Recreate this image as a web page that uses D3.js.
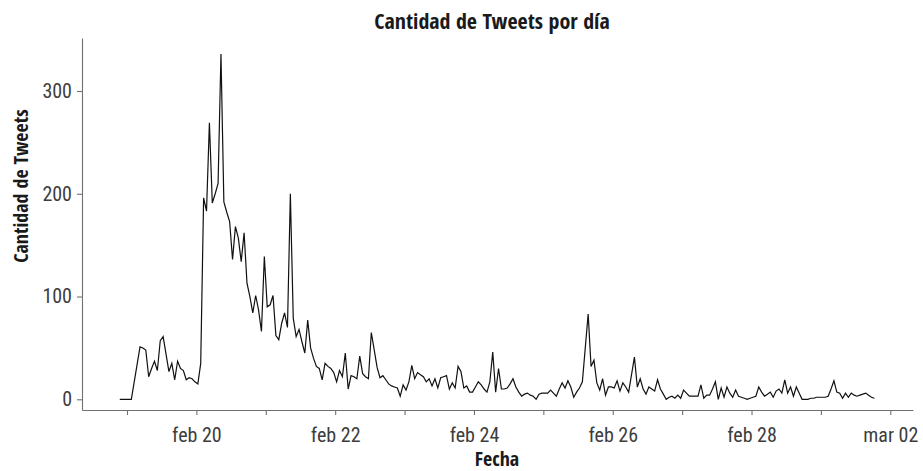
<!DOCTYPE html>
<html lang="es">
<head>
<meta charset="UTF-8">
<title>Cantidad de Tweets por día</title>
<script src="https://d3js.org/d3.v7.min.js"></script>
<style>
    body { margin: 0; background: #ffffff; }
    svg text { font-family: "Roboto Condensed", "DejaVu Sans Condensed", sans-serif; }
    .axis text { font-size: 20px; fill: #3d3d3d; }
    .axis line, .axis path { stroke: #707070; stroke-width: 1.1; }
    .title { font-family: "Open Sans Condensed", "Roboto Condensed", sans-serif; font-size: 22px; font-weight: bold; fill: #1a1a1a; }
    .axis-title { font-family: "Open Sans Condensed", "Roboto Condensed", sans-serif; font-size: 20px; font-weight: bold; fill: #1a1a1a; }
</style>
</head>
<body>
<svg id="chart"></svg>
<script>
// Tweets por hora, primer registro el 18 feb a las 21h (centro de la hora)
var startHour = new Date(2021, 1, 18, 21, 30);
var tweetsPorHora = [
    0, 0, 0, 0, 0, 17, 34, 51, 50, 48, 22, 30, 37, 28, 57, 61, 44, 27, 35, 19,
    37, 30, 28, 19, 21, 20, 17, 15, 35, 196, 183, 269, 191, 200, 210, 336, 192, 182, 173, 136,
    168, 157, 134, 162, 113, 100, 84, 101, 87, 66, 139, 90, 92, 101, 62, 58, 74, 84, 70, 200,
    79, 61, 68, 56, 45, 77, 50, 40, 32, 30, 19, 35, 32, 30, 26, 17, 28, 22, 45, 10,
    23, 22, 20, 42, 25, 22, 20, 65, 48, 31, 21, 23, 19, 15, 13, 12, 11, 3, 14, 9,
    17, 33, 20, 26, 24, 22, 17, 20, 13, 20, 11, 21, 22, 23, 10, 16, 11, 32, 27, 11,
    13, 7, 7, 12, 17, 14, 10, 7, 17, 46, 7, 30, 10, 10, 11, 15, 20, 12, 7, 3,
    5, 6, 4, 3, 0, 5, 6, 6, 6, 9, 6, 3, 10, 16, 11, 18, 12, 2, 7, 11,
    17, 50, 83, 32, 38, 16, 9, 20, 4, 12, 12, 11, 18, 8, 16, 12, 7, 24, 41, 12,
    20, 10, 5, 12, 10, 8, 19, 10, 5, 0, 2, 3, 1, 4, 1, 9, 6, 3, 3, 3,
    3, 14, 1, 4, 4, 10, 17, 0, 11, 2, 12, 6, 2, 9, 3, 2, 1, 0, 1, 2,
    3, 12, 7, 3, 5, 7, 2, 8, 10, 6, 19, 6, 12, 3, 12, 6, 0, 0, 0, 1,
    1, 2, 2, 2, 2, 3, 10, 18, 7, 6, 1, 6, 2, 6, 4, 3, 4, 5, 6, 4,
    2, 1
];
var firstDay = new Date(2021, 1, 19);
var lastDay = new Date(2021, 2, 2);
var labelFrom = new Date(2021, 1, 20);
var yTicks = [0, 100, 200, 300];

var svgWidth = 923;
var svgHeight = 471;

var es = d3.timeFormatLocale({
    dateTime: "%x, %X", date: "%d/%m/%Y", time: "%H:%M:%S",
    periods: ["AM", "PM"],
    days: ["domingo", "lunes", "martes", "miércoles", "jueves", "viernes", "sábado"],
    shortDays: ["dom", "lun", "mar", "mié", "jue", "vie", "sáb"],
    months: ["enero", "febrero", "marzo", "abril", "mayo", "junio", "julio", "agosto", "septiembre", "octubre", "noviembre", "diciembre"],
    shortMonths: ["ene", "feb", "mar", "abr", "may", "jun", "jul", "ago", "sep", "oct", "nov", "dic"]
});
var fmt = es.format("%b %d");

var data = tweetsPorHora.map(function(v, i) {
    return {t: d3.timeHour.offset(startHour, i), n: v};
});

var svg = d3.select("#chart")
    .attr("width", svgWidth)
    .attr("height", svgHeight);

// panel: 82..913 x 38..410
var x = d3.scaleTime().domain([firstDay, lastDay]).range([127, 890.3]);
x.domain([x.invert(82), x.invert(913)]).range([82, 913]);

var y = d3.scaleLinear().domain([0, 300]).range([399.3, 91]);
y.domain([y.invert(410), y.invert(38)]).range([410, 38]);

var dayTicks = d3.timeDay.range(firstDay, d3.timeDay.offset(lastDay, 1));

// x axis: a tick every day, label every second day
svg.append("g")
    .attr("class", "axis")
    .attr("transform", "translate(0,410)")
    .call(d3.axisBottom(x)
        .tickValues(dayTicks)
        .tickSize(5)
        .tickSizeOuter(0)
        .tickPadding(13)
        .tickFormat(function(d) {
            var k = d3.timeDay.count(labelFrom, d);
            return (k >= 0 && k % 2 === 0) ? fmt(d) : "";
        }));

svg.append("g")
    .attr("class", "axis")
    .attr("transform", "translate(82,0)")
    .call(d3.axisLeft(y)
        .tickValues(yTicks)
        .tickSize(5)
        .tickSizeOuter(0)
        .tickPadding(5));

var line = d3.line()
    .x(function(d) { return x(d.t); })
    .y(function(d) { return y(d.n); });

svg.append("path")
    .datum(data)
    .attr("fill", "none")
    .attr("stroke", "#111")
    .attr("stroke-width", 1.2)
    .attr("d", line);

// titles
svg.append("text")
    .attr("class", "title")
    .attr("x", 492)
    .attr("y", 29)
    .attr("text-anchor", "middle")
    .text("Cantidad de Tweets por día");

svg.append("text")
    .attr("class", "axis-title")
    .attr("x", 497)
    .attr("y", 466)
    .attr("text-anchor", "middle")
    .text("Fecha");

svg.append("text")
    .attr("class", "axis-title")
    .attr("transform", "translate(28,186) rotate(-90)")
    .attr("text-anchor", "middle")
    .text("Cantidad de Tweets");
</script>
</body>
</html>
